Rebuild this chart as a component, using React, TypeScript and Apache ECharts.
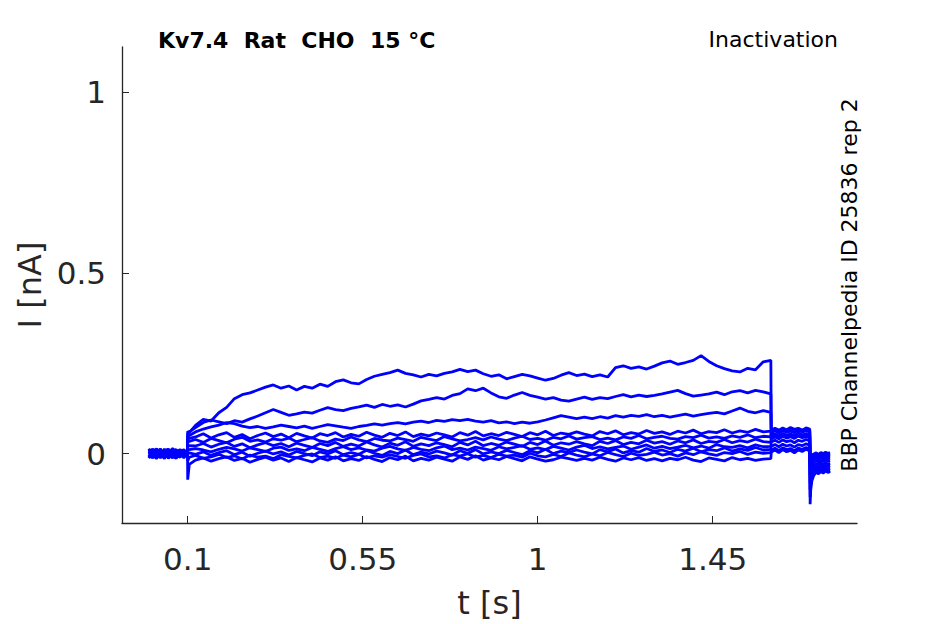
import React, { useEffect, useRef } from "react";
import * as echarts from "echarts";

// ---- sample times (s) ----
const T_BASE = [0, 0.01, 0.02, 0.03, 0.04, 0.05, 0.06, 0.07, 0.08, 0.09, 0.0995];
const T_PRE = [0.1, 0.104, 0.12, 0.14, 0.16, 0.18, 0.2, 0.22, 0.24, 0.26, 0.28, 0.3, 0.32, 0.34, 0.36, 0.38, 0.4, 0.42, 0.44, 0.46, 0.48, 0.5, 0.52, 0.54, 0.56, 0.58, 0.6, 0.62, 0.64, 0.66, 0.68, 0.7, 0.72, 0.74, 0.76, 0.78, 0.8, 0.82, 0.84, 0.86, 0.88, 0.9, 0.92, 0.94, 0.96, 0.98, 1.0, 1.02, 1.04, 1.06, 1.08, 1.1, 1.12, 1.14, 1.16, 1.18, 1.2, 1.22, 1.24, 1.26, 1.28, 1.3, 1.32, 1.34, 1.36, 1.38, 1.4, 1.42, 1.44, 1.46, 1.48, 1.5, 1.52, 1.54, 1.56, 1.58, 1.5995];
const T_TEST = [1.6005, 1.61, 1.62, 1.63, 1.64, 1.65, 1.66, 1.67, 1.68, 1.69, 1.6995];
const T_TAIL = [1.7005, 1.702, 1.705, 1.71, 1.716, 1.722, 1.728, 1.734, 1.74, 1.746, 1.752];

// ---- currents (nA) per sweep: holding baseline ----
const BASE_1 = [0.006, -0.01, 0.012, -0.004, 0.009, -0.012, 0.003, 0.011, -0.007, 0.005, -0.002];
const BASE_2 = [-0.008, 0.011, -0.003, 0.013, -0.011, 0.006, -0.009, 0.004, 0.01, -0.005, 0.003];
const BASE_3 = [0.012, -0.004, -0.013, 0.007, 0.002, 0.013, -0.006, -0.012, 0.004, 0.009, -0.008];
const BASE_4 = [-0.013, 0.005, 0.009, -0.009, 0.013, -0.004, 0.011, -0.003, -0.01, 0.007, 0.001];
const BASE_5 = [0.003, 0.013, -0.007, 0.002, -0.014, 0.009, 0.006, -0.009, 0.012, -0.003, 0.008];
const BASE_6 = [-0.004, -0.012, 0.006, 0.012, -0.003, -0.009, 0.014, 0.007, -0.005, 0.01, -0.011];
const BASE_7 = [0.009, 0.002, -0.01, -0.006, 0.008, 0.012, -0.013, 0.002, 0.009, -0.008, 0.005];
const BASE_8 = [-0.01, 0.007, 0.013, 0.003, -0.008, 0.002, 0.009, -0.014, 0.005, 0.011, -0.004];
const BASE_9 = [0.014, -0.006, 0.003, -0.012, 0.006, -0.013, -0.002, 0.012, -0.009, 0.001, 0.01];
const BASE_10 = [-0.003, 0.009, -0.014, 0.01, -0.002, 0.005, -0.01, 0.006, 0.002, -0.012, 0.004];

// ---- conditioning pre-pulse (0.1 s – 1.6 s) ----
const PRE_1 = [0.062, 0.058,
  0.078, 0.095, 0.09, 0.113, 0.128, 0.152, 0.163, 0.168, 0.176, 0.184,
  0.19, 0.181, 0.187, 0.176, 0.186, 0.181, 0.192, 0.186, 0.199, 0.204,
  0.196, 0.193, 0.205, 0.214, 0.219, 0.224, 0.231, 0.222, 0.218, 0.212,
  0.219, 0.215, 0.222, 0.226, 0.233, 0.227, 0.231, 0.221, 0.214, 0.218,
  0.207, 0.213, 0.219, 0.215, 0.209, 0.203, 0.208, 0.217, 0.224, 0.216,
  0.22, 0.213, 0.218, 0.212, 0.238, 0.243, 0.236, 0.24, 0.234, 0.242,
  0.251, 0.256, 0.247, 0.252, 0.258, 0.271, 0.255, 0.243, 0.235, 0.229,
  0.226, 0.236, 0.232, 0.254,
  0.258];
const PRE_2 = [0.055, 0.06,
  0.072, 0.086, 0.093, 0.088, 0.083, 0.091, 0.087, 0.096, 0.104, 0.113,
  0.122, 0.114, 0.106, 0.11, 0.115, 0.112, 0.12, 0.127, 0.122, 0.119,
  0.125, 0.129, 0.134, 0.128, 0.136, 0.131, 0.135, 0.129, 0.137, 0.146,
  0.15, 0.155, 0.151, 0.161, 0.166, 0.179, 0.174, 0.181, 0.168, 0.157,
  0.153, 0.162, 0.169, 0.161, 0.156, 0.151, 0.155, 0.148, 0.145, 0.151,
  0.156, 0.15, 0.155, 0.152, 0.158, 0.163, 0.157, 0.162, 0.158, 0.161,
  0.165, 0.17, 0.175, 0.166, 0.159, 0.162, 0.165, 0.17, 0.163, 0.171,
  0.174, 0.168, 0.175, 0.171,
  0.165];
const PRE_3 = [0.048, 0.05,
  0.06, 0.068, 0.074, 0.079, 0.086, 0.083, 0.076, 0.072, 0.075, 0.07,
  0.074, 0.079, 0.075, 0.071, 0.076, 0.07, 0.075, 0.08, 0.077, 0.073,
  0.07, 0.075, 0.078, 0.082, 0.079, 0.083, 0.086, 0.082, 0.087, 0.09,
  0.086, 0.092, 0.089, 0.094, 0.091, 0.095, 0.09, 0.087, 0.091, 0.085,
  0.088, 0.083, 0.087, 0.084, 0.088, 0.093, 0.099, 0.105, 0.101, 0.097,
  0.101, 0.097, 0.102, 0.098, 0.105, 0.101, 0.106, 0.103, 0.108, 0.102,
  0.106, 0.101, 0.105, 0.109, 0.104, 0.108, 0.111, 0.114, 0.11, 0.118,
  0.126, 0.117, 0.113, 0.119,
  0.114];
const PRE_4 = [0.04, 0.042,
  0.046, 0.055, 0.043, 0.052, 0.058, 0.045, 0.053, 0.041, 0.05, 0.057,
  0.047, 0.054, 0.044, 0.056, 0.049, 0.043, 0.055, 0.05, 0.058, 0.046,
  0.053, 0.048, 0.059, 0.051, 0.045, 0.056, 0.05, 0.06, 0.047, 0.054,
  0.049, 0.057, 0.052, 0.046, 0.058, 0.051, 0.061, 0.049, 0.055, 0.05,
  0.059, 0.053, 0.047, 0.058, 0.052, 0.062, 0.05, 0.057, 0.053, 0.06,
  0.054, 0.049, 0.061, 0.055, 0.063, 0.052, 0.058, 0.054, 0.064, 0.056,
  0.06, 0.053, 0.062, 0.057, 0.065, 0.055, 0.061, 0.058, 0.066, 0.057,
  0.063, 0.059, 0.067, 0.06,
  0.062];
const PRE_5 = [0.032, 0.034,
  0.039, 0.031, 0.042, 0.036, 0.03, 0.04, 0.045, 0.034, 0.038, 0.032,
  0.041, 0.037, 0.043, 0.033, 0.039, 0.044, 0.035, 0.031, 0.04, 0.036,
  0.046, 0.038, 0.033, 0.042, 0.037, 0.035, 0.043, 0.039, 0.034, 0.045,
  0.04, 0.036, 0.047, 0.041, 0.035, 0.039, 0.044, 0.038, 0.046, 0.04,
  0.036, 0.043, 0.048, 0.039, 0.042, 0.037, 0.045, 0.041, 0.049, 0.04,
  0.044, 0.047, 0.039, 0.043, 0.038, 0.046, 0.042, 0.05, 0.041, 0.045,
  0.048, 0.042, 0.04, 0.047, 0.044, 0.051, 0.043, 0.046, 0.042, 0.049,
  0.045, 0.052, 0.044, 0.048,
  0.046];
const PRE_6 = [0.02, 0.022,
  0.021, 0.028, 0.018, 0.026, 0.031, 0.02, 0.027, 0.016, 0.024, 0.03,
  0.022, 0.028, 0.019, 0.029, 0.023, 0.017, 0.028, 0.022, 0.031, 0.02,
  0.026, 0.021, 0.032, 0.024, 0.018, 0.029, 0.023, 0.033, 0.02, 0.027,
  0.022, 0.03, 0.025, 0.019, 0.031, 0.024, 0.034, 0.022, 0.028, 0.023,
  0.032, 0.026, 0.02, 0.031, 0.025, 0.035, 0.023, 0.03, 0.026, 0.033,
  0.027, 0.022, 0.034, 0.028, 0.036, 0.025, 0.031, 0.027, 0.037, 0.029,
  0.033, 0.026, 0.035, 0.03, 0.038, 0.028, 0.034, 0.031, 0.039, 0.03,
  0.036, 0.032, 0.04, 0.033,
  0.031];
const PRE_7 = [0.012, 0.011,
  0.014, 0.01, 0.005, 0.012, 0.017, 0.013, 0.007, 0.016, 0.011, 0.006,
  0.015, 0.018, 0.009, 0.013, 0.008, 0.017, 0.012, 0.006, 0.014, 0.019,
  0.011, 0.016, 0.01, 0.007, 0.015, 0.02, 0.013, 0.009, 0.017, 0.012,
  0.008, 0.016, 0.021, 0.011, 0.015, 0.01, 0.018, 0.014, 0.009, 0.019,
  0.013, 0.017, 0.022, 0.012, 0.016, 0.011, 0.02, 0.015, 0.01, 0.018,
  0.023, 0.014, 0.019, 0.013, 0.017, 0.021, 0.012, 0.018, 0.024, 0.015,
  0.02, 0.014, 0.018, 0.023, 0.016, 0.021, 0.015, 0.025, 0.019, 0.017,
  0.022, 0.016, 0.024, 0.019,
  0.02];
const PRE_8 = [0.0, 0.002,
  -0.002, 0.005, -0.005, 0.003, 0.008, -0.003, 0.004, -0.007, 0.001, 0.007,
  -0.001, 0.005, -0.004, 0.006, 0.0, -0.006, 0.005, -0.001, 0.008, -0.003,
  0.003, -0.002, 0.009, 0.001, -0.005, 0.006, 0.0, 0.01, -0.003, 0.004,
  -0.001, 0.007, 0.002, -0.004, 0.008, 0.001, 0.011, -0.001, 0.005, 0.0,
  0.009, 0.003, -0.003, 0.008, 0.002, 0.012, 0.0, 0.007, 0.003, 0.01,
  0.004, -0.001, 0.011, 0.005, 0.013, 0.002, 0.008, 0.004, 0.014, 0.006,
  0.01, 0.003, 0.012, 0.007, 0.015, 0.005, 0.011, 0.008, 0.016, 0.007,
  0.013, 0.009, 0.017, 0.01,
  0.012];
const PRE_9 = [-0.02, -0.01,
  -0.005, -0.013, -0.009, -0.002, -0.011, -0.006, -0.015, -0.004, -0.01, -0.007,
  -0.014, -0.003, -0.008, -0.012, -0.005, -0.001, -0.011, -0.007, -0.013, -0.004,
  -0.009, -0.002, -0.012, -0.006, -0.01, -0.003, -0.008, -0.013, -0.005, -0.001,
  -0.009, -0.006, -0.012, -0.003, -0.007, 0.0, -0.01, -0.005, -0.011, -0.002,
  -0.007, -0.004, -0.01, 0.001, -0.006, -0.009, -0.002, -0.008, 0.002, -0.004,
  -0.009, -0.001, -0.006, 0.003, -0.003, -0.008, 0.001, -0.005, -0.002, 0.004,
  -0.004, 0.0, -0.007, 0.002, -0.003, 0.005, -0.001, -0.005, 0.003, 0.0,
  0.006, -0.002, 0.004, 0.001,
  0.003];
const PRE_10 = [-0.072, -0.03,
  -0.018, -0.012, -0.021, -0.014, -0.009, -0.019, -0.013, -0.024, -0.016, -0.01,
  -0.018, -0.012, -0.022, -0.011, -0.017, -0.023, -0.012, -0.018, -0.009, -0.02,
  -0.014, -0.019, -0.008, -0.016, -0.022, -0.011, -0.017, -0.007, -0.02, -0.013,
  -0.018, -0.01, -0.015, -0.021, -0.009, -0.016, -0.006, -0.018, -0.012, -0.017,
  -0.008, -0.014, -0.02, -0.009, -0.015, -0.021, -0.017, -0.01, -0.014, -0.019,
  -0.013, -0.018, -0.01, -0.016, -0.021, -0.012, -0.017, -0.011, -0.019, -0.014,
  -0.02, -0.013, -0.017, -0.01, -0.018, -0.022, -0.012, -0.016, -0.02, -0.011,
  -0.017, -0.013, -0.019, -0.015,
  -0.014];

// ---- test pulse (1.6 s – 1.7 s) ----
const TEST_1 = [0.04, 0.046, 0.041, 0.048, 0.043, 0.047, 0.042, 0.049, 0.044, 0.046, 0.045];
const TEST_2 = [0.05, 0.055, 0.049, 0.056, 0.051, 0.054, 0.05, 0.057, 0.052, 0.055, 0.053];
const TEST_3 = [0.058, 0.063, 0.057, 0.064, 0.059, 0.062, 0.058, 0.065, 0.06, 0.063, 0.061];
const TEST_4 = [0.064, 0.07, 0.065, 0.071, 0.066, 0.072, 0.067, 0.07, 0.065, 0.071, 0.068];
const TEST_5 = [0.06, 0.066, 0.061, 0.067, 0.062, 0.065, 0.06, 0.068, 0.063, 0.066, 0.064];
const TEST_6 = [0.045, 0.05, 0.044, 0.051, 0.046, 0.049, 0.043, 0.05, 0.047, 0.052, 0.048];
const TEST_7 = [0.032, 0.037, 0.031, 0.038, 0.033, 0.036, 0.03, 0.037, 0.034, 0.039, 0.035];
const TEST_8 = [0.02, 0.025, 0.019, 0.026, 0.021, 0.024, 0.018, 0.025, 0.022, 0.027, 0.023];
const TEST_9 = [0.01, 0.015, 0.009, 0.016, 0.011, 0.014, 0.008, 0.015, 0.012, 0.017, 0.013];
const TEST_10 = [0.004, 0.01, 0.003, 0.011, 0.005, 0.009, 0.002, 0.01, 0.006, 0.012, 0.007];

// ---- tail after test pulse ----
const TAIL_1 = [-0.14, -0.1, -0.075, -0.06, -0.052, -0.056, -0.05, -0.054, -0.048, -0.052, -0.05];
const TAIL_2 = [-0.12, -0.085, -0.065, -0.055, -0.048, -0.052, -0.046, -0.05, -0.045, -0.049, -0.047];
const TAIL_3 = [-0.1, -0.07, -0.055, -0.047, -0.042, -0.046, -0.04, -0.044, -0.039, -0.043, -0.041];
const TAIL_4 = [-0.08, -0.06, -0.045, -0.04, -0.035, -0.039, -0.033, -0.037, -0.032, -0.036, -0.034];
const TAIL_5 = [-0.06, -0.045, -0.036, -0.032, -0.028, -0.031, -0.026, -0.03, -0.025, -0.029, -0.027];
const TAIL_6 = [-0.045, -0.035, -0.028, -0.024, -0.02, -0.024, -0.019, -0.022, -0.018, -0.021, -0.02];
const TAIL_7 = [-0.035, -0.026, -0.02, -0.016, -0.013, -0.017, -0.012, -0.015, -0.011, -0.014, -0.013];
const TAIL_8 = [-0.025, -0.018, -0.013, -0.01, -0.007, -0.011, -0.006, -0.009, -0.005, -0.008, -0.007];
const TAIL_9 = [-0.018, -0.012, -0.008, -0.005, -0.002, -0.006, -0.001, -0.004, 0.0, -0.003, -0.002];
const TAIL_10 = [-0.012, -0.007, -0.004, -0.001, 0.002, -0.002, 0.003, 0.0, 0.004, 0.001, 0.002];

const SWEEPS = [
  [BASE_1, PRE_1, TEST_1, TAIL_1],
  [BASE_2, PRE_2, TEST_2, TAIL_2],
  [BASE_3, PRE_3, TEST_3, TAIL_3],
  [BASE_4, PRE_4, TEST_4, TAIL_4],
  [BASE_5, PRE_5, TEST_5, TAIL_5],
  [BASE_6, PRE_6, TEST_6, TAIL_6],
  [BASE_7, PRE_7, TEST_7, TAIL_7],
  [BASE_8, PRE_8, TEST_8, TAIL_8],
  [BASE_9, PRE_9, TEST_9, TAIL_9],
  [BASE_10, PRE_10, TEST_10, TAIL_10],
];
const SEG_TIMES = [T_BASE, T_PRE, T_TEST, T_TAIL];

const X_TICKS = [0.1, 0.55, 1, 1.45];
const Y_TICKS = [0, 0.5, 1];

const TITLE = "Kv7.4  Rat  CHO  15 °C";
const PROTOCOL = "Inactivation";
const SOURCE = "BBP Channelpedia ID 25836 rep 2";

const FONT = '"DejaVu Sans", Verdana, sans-serif';
const AX = "#262626";

function sweepData(segs: number[][]) {
  const out: number[][] = [];
  segs.forEach((vals, k) => {
    const ts = SEG_TIMES[k];
    const n = Math.min(ts.length, vals.length);
    for (let i = 0; i < n; i++) out.push([ts[i], vals[i]]);
  });
  return out;
}

export default function App() {
  const ref = useRef<HTMLDivElement>(null);
  useEffect(() => {
    if (!ref.current) return;
    const chart = echarts.init(ref.current, undefined, { renderer: "svg" });
    const axisCommon = {
      axisLine: { show: true, onZero: false, lineStyle: { color: AX, width: 1.3 } },
      splitLine: { show: false },
      nameTextStyle: { color: AX, fontSize: 32, fontFamily: FONT },
    };
    chart.setOption({
      animation: false,
      backgroundColor: "#ffffff",
      grid: { left: 122, top: 47, right: 88, bottom: 98, containLabel: false },
      xAxis: {
        type: "value",
        min: -0.069,
        max: 1.821,
        ...axisCommon,
        name: "t [s]",
        nameLocation: "middle",
        nameGap: 64,
        axisTick: { show: true, inside: true, length: 7, lineStyle: { color: AX }, customValues: X_TICKS },
        axisLabel: { show: true, color: AX, fontSize: 31, fontFamily: FONT, margin: 20, customValues: X_TICKS, formatter: (v: number) => String(v) },
      },
      yAxis: {
        type: "value",
        min: -0.192,
        max: 1.125,
        ...axisCommon,
        name: "I [nA]",
        nameLocation: "middle",
        nameGap: 68,
        axisTick: { show: true, inside: true, length: 7, lineStyle: { color: AX }, customValues: Y_TICKS },
        axisLabel: { show: true, color: AX, fontSize: 31, fontFamily: FONT, margin: 16, customValues: Y_TICKS, formatter: (v: number) => String(v) },
      },
      graphic: [
        {
          type: "text",
          x: 158,
          y: 40,
          style: { text: TITLE, fontSize: 22, fontWeight: "bold", fontFamily: FONT, fill: "#000", align: "left", verticalAlign: "middle" },
        },
        {
          type: "text",
          x: 838,
          y: 39,
          style: { text: PROTOCOL, fontSize: 22, fontFamily: FONT, fill: "#000", align: "right", verticalAlign: "middle" },
        },
        {
          type: "text",
          x: 849,
          y: 285,
          rotation: Math.PI / 2,
          style: { text: SOURCE, fontSize: 22, fontFamily: FONT, fill: "#000", align: "center", verticalAlign: "middle" },
        },
      ],
      series: SWEEPS.map((segs, i) => ({
        type: "line",
        name: "sweep " + (i + 1),
        data: sweepData(segs),
        showSymbol: false,
        symbol: "none",
        lineStyle: { color: "#0000ff", width: 2.8 },
        silent: true,
      })),
    });
    return () => chart.dispose();
  }, []);
  return <div ref={ref} style={{ position: "fixed", left: 0, top: 0, width: 945, height: 624 }} />;
}
